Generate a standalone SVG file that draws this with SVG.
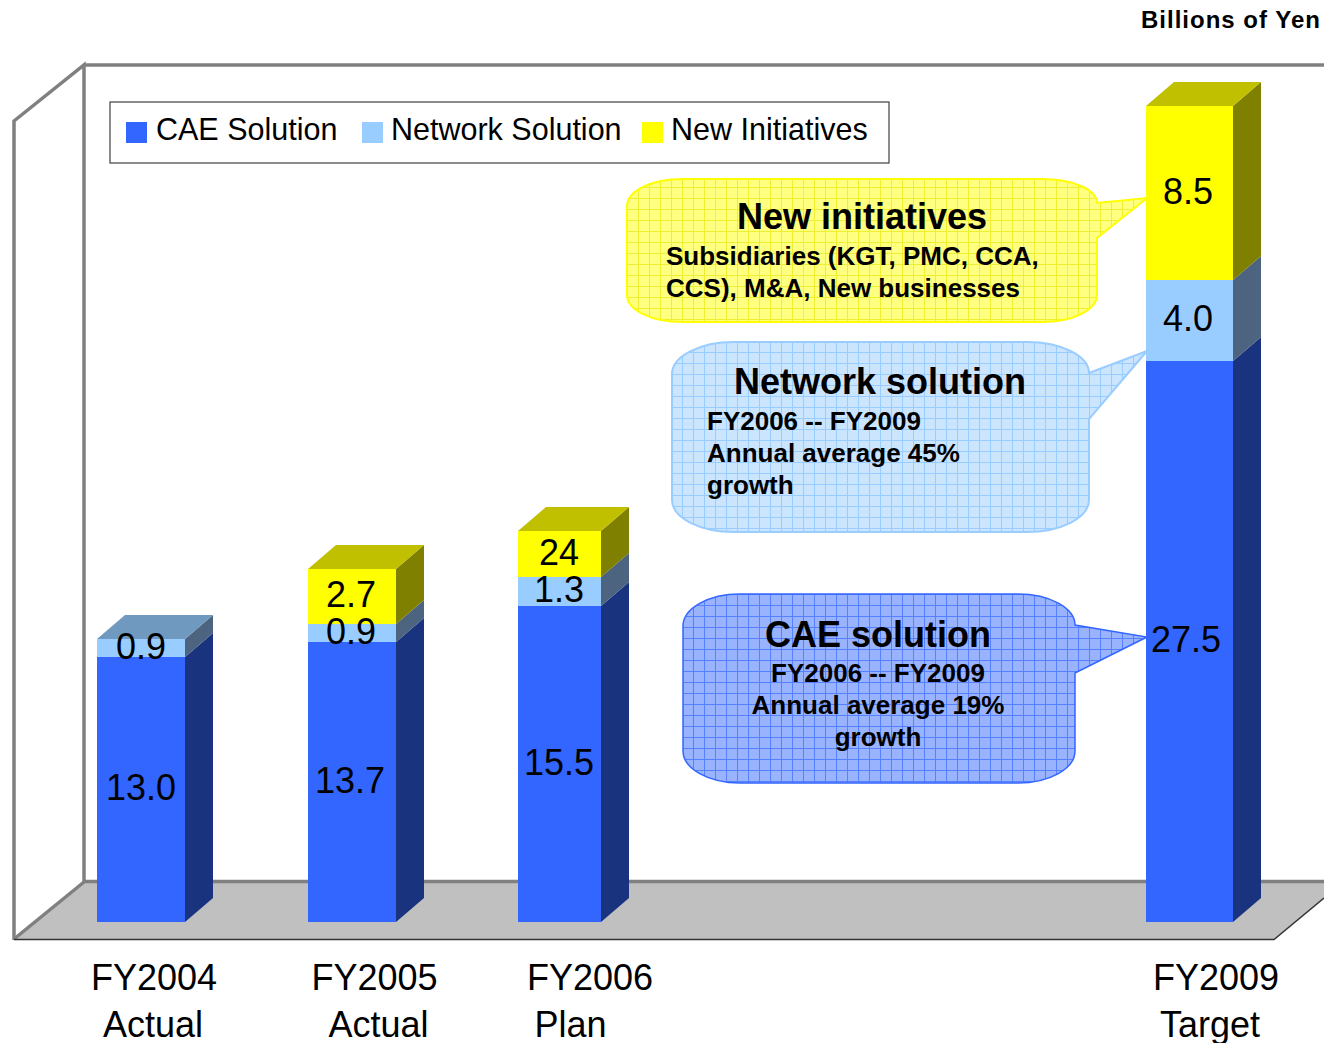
<svg xmlns="http://www.w3.org/2000/svg" width="1324" height="1043" viewBox="0 0 1324 1043">
<style>
  text { font-family: "Liberation Sans", Arial, sans-serif; fill: #000; }
  .val { font-size: 36px; text-anchor: middle; }
  .axis { font-size: 36px; text-anchor: middle; }
  .leg { font-size: 30.5px; }
  .h { font-size: 36px; font-weight: bold; }
  .b { font-size: 26px; font-weight: bold; }
  .frame { fill: none; stroke: #808080; stroke-width: 3.5; }
  .cae { fill: #3366FF; }
  .caeS { fill: #1A337F; }
  .net { fill: #99CCFF; }
  .netS { fill: #4D6480; }
  .netT { fill: #7099BF; }
  .yel { fill: #FFFF00; }
  .yelS { fill: #808000; }
  .yelT { fill: #C0C000; }
</style>
<defs>
  <pattern id="gY" patternUnits="userSpaceOnUse" width="11" height="11">
    <rect width="11" height="11" fill="#FFFF80"/>
    <path d="M0 0.5H11M0.5 0V11" stroke="#EEEE33" stroke-width="1" fill="none"/>
  </pattern>
  <pattern id="gN" patternUnits="userSpaceOnUse" width="11" height="11">
    <rect width="11" height="11" fill="#CCE5FF"/>
    <path d="M0 0.5H11M0.5 0V11" stroke="#99CCFF" stroke-width="1" fill="none"/>
  </pattern>
  <pattern id="gC" patternUnits="userSpaceOnUse" width="11" height="11">
    <rect width="11" height="11" fill="#99B3FF"/>
    <path d="M0 0.5H11M0.5 0V11" stroke="#5580FF" stroke-width="1" fill="none"/>
  </pattern>
</defs>
<rect width="1324" height="1043" fill="#FFFFFF"/>

<g id="frame">
  <polygon points="84,882 1324,882 1324,898 1274,939 14,939" fill="#C0C0C0"/>
  <line x1="84" y1="65" x2="1324" y2="65" class="frame"/>
  <polyline points="84,882 84,65 14,121 14,940" class="frame"/>
  <line x1="84" y1="881.5" x2="1324" y2="881.5" class="frame"/>
  <line x1="84" y1="882" x2="14" y2="939" class="frame"/>
  <polyline points="14,939.5 1274,939.5 1324,898" fill="none" stroke="#333333" stroke-width="1.5"/>
</g>

<text x="1141" y="28" font-size="24" font-weight="bold" letter-spacing="1">Billions of Yen</text>

<g id="legend">
  <rect x="110" y="102" width="779" height="61" fill="#FFFFFF" stroke="#404040" stroke-width="1.2"/>
  <rect x="126" y="122" width="21" height="21" class="cae"/>
  <text x="156" y="140" class="leg">CAE Solution</text>
  <rect x="362" y="122" width="21" height="21" class="net"/>
  <text x="391" y="140" class="leg">Network Solution</text>
  <rect x="642" y="122" width="21" height="21" class="yel"/>
  <text x="671" y="140" class="leg">New Initiatives</text>
</g>

<g id="bar-fy2004">
  <rect x="97" y="657" width="88" height="265" class="cae"/>
  <polygon points="185,657 213,633 213,898 185,922" class="caeS"/>
  <rect x="97" y="639" width="88" height="18" class="net"/>
  <polygon points="185,639 213,615 213,633 185,657" class="netS"/>
  <polygon points="97,639 185,639 213,615 125,615" class="netT"/>
  <text x="141" y="659" class="val">0.9</text>
  <text x="141" y="800" class="val">13.0</text>
</g>

<g id="bar-fy2005">
  <rect x="308" y="642" width="88" height="280" class="cae"/>
  <polygon points="396,642 424,618 424,898 396,922" class="caeS"/>
  <rect x="308" y="624" width="88" height="18" class="net"/>
  <polygon points="396,624 424,600 424,618 396,642" class="netS"/>
  <rect x="308" y="569" width="88" height="55" class="yel"/>
  <polygon points="396,569 424,545 424,600 396,624" class="yelS"/>
  <polygon points="308,569 396,569 424,545 336,545" class="yelT"/>
  <text x="351" y="607" class="val">2.7</text>
  <text x="351" y="644" class="val">0.9</text>
  <text x="350" y="793" class="val">13.7</text>
</g>

<g id="bar-fy2006">
  <rect x="518" y="606" width="83" height="316" class="cae"/>
  <polygon points="601,606 629,582 629,898 601,922" class="caeS"/>
  <rect x="518" y="577" width="83" height="29" class="net"/>
  <polygon points="601,577 629,553 629,582 601,606" class="netS"/>
  <rect x="518" y="531" width="83" height="46" class="yel"/>
  <polygon points="601,531 629,507 629,553 601,577" class="yelS"/>
  <polygon points="518,531 601,531 629,507 546,507" class="yelT"/>
  <text x="559" y="565" class="val">24</text>
  <text x="559" y="602" class="val">1.3</text>
  <text x="559" y="775" class="val">15.5</text>
</g>

<g id="bar-fy2009">
  <rect x="1146" y="361" width="87" height="561" class="cae"/>
  <polygon points="1233,361 1261,337 1261,898 1233,922" class="caeS"/>
  <rect x="1146" y="280" width="87" height="81" class="net"/>
  <polygon points="1233,280 1261,256 1261,337 1233,361" class="netS"/>
  <rect x="1146" y="106" width="87" height="174" class="yel"/>
  <polygon points="1233,106 1261,82 1261,256 1233,280" class="yelS"/>
  <polygon points="1146,106 1233,106 1261,82 1174,82" class="yelT"/>
  <text x="1188" y="204" class="val">8.5</text>
  <text x="1188" y="331" class="val">4.0</text>
  <text x="1186" y="652" class="val">27.5</text>
</g>

<g id="axis-labels">
  <text x="154" y="990" class="axis">FY2004</text>
  <text x="153" y="1037" class="axis">Actual</text>
  <text x="374.5" y="990" class="axis">FY2005</text>
  <text x="378.5" y="1037" class="axis">Actual</text>
  <text x="590" y="990" class="axis">FY2006</text>
  <text x="570.5" y="1037" class="axis">Plan</text>
  <text x="1216" y="990" class="axis">FY2009</text>
  <text x="1210" y="1037" class="axis">Target</text>
</g>

<g id="connectors"></g>

<g id="callout-new">
  <path d="M682,179 H1042 A55 24 0 0 1 1097,203 L1147,198 L1097,238 V295 A55 27 0 0 1 1042,322 H682 A55 27 0 0 1 627,295 V206 A55 27 0 0 1 682,179 Z" fill="url(#gY)" stroke="#FFFF00" stroke-width="2"/>
  <text x="862" y="229" class="h" text-anchor="middle">New initiatives</text>
  <text x="666" y="265" class="b">Subsidiaries (KGT, PMC, CCA,</text>
  <text x="666" y="297" class="b">CCS), M&amp;A, New businesses</text>
</g>

<g id="callout-network">
  <path d="M734,342 H1027 A62 31 0 0 1 1089,373 L1147,351 L1089,419 V500 A62 32 0 0 1 1027,532 H734 A62 32 0 0 1 672,500 V374 A62 32 0 0 1 734,342 Z" fill="url(#gN)" stroke="#99CCFF" stroke-width="2"/>
  <text x="880" y="394" class="h" text-anchor="middle">Network solution</text>
  <text x="707" y="430" class="b">FY2006 -- FY2009</text>
  <text x="707" y="462" class="b">Annual average 45%</text>
  <text x="707" y="494" class="b">growth</text>
</g>

<g id="callout-cae">
  <path d="M740,594 H1018 A57 31 0 0 1 1075,625 L1147,637 L1075,673 V751 A57 32 0 0 1 1018,783 H740 A57 32 0 0 1 683,751 V626 A57 32 0 0 1 740,594 Z" fill="url(#gC)" stroke="#3366FF" stroke-width="1.5"/>
  <text x="878" y="647" class="h" text-anchor="middle">CAE solution</text>
  <text x="878" y="682" class="b" text-anchor="middle">FY2006 -- FY2009</text>
  <text x="878" y="714" class="b" text-anchor="middle">Annual average 19%</text>
  <text x="878" y="746" class="b" text-anchor="middle">growth</text>
</g>
</svg>
